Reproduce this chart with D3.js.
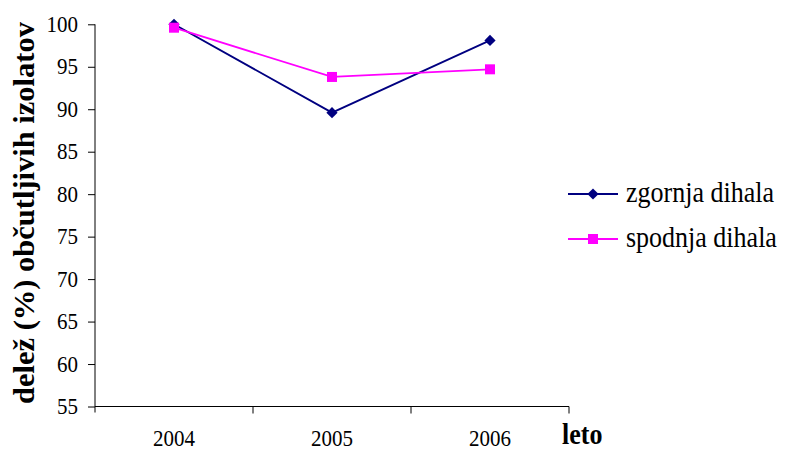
<!DOCTYPE html>
<html>
<head>
<meta charset="utf-8">
<script src="https://cdn.jsdelivr.net/npm/d3@7"></script>
<style>
  html, body { margin: 0; padding: 0; background: #fff; }
  svg { display: block; }
  svg text { font-family: "Liberation Serif", "Times New Roman", serif; fill: #000; }
</style>
</head>
<body>
<svg id="chart" width="789" height="451"></svg>
<script>
// Years on the category axis
const years = ["2004", "2005", "2006"];
// Share (%) of susceptible isolates per respiratory tract site
const zgornjaDihala = [100, 89.6, 98.1];
const spodnjaDihala = [99.6, 93.8, 94.7];
// Value-axis ticks
const yTicks = [55, 60, 65, 70, 75, 80, 85, 90, 95, 100];

const seriesNames = ["zgornja dihala", "spodnja dihala"];
const seriesColors = ["#000080", "#FF00FF"];
const seriesValues = [zgornjaDihala, spodnjaDihala];

const SERIF = "'Liberation Serif', 'Times New Roman', serif";
// Glyphs are drawn slightly taller than wide
const STRETCH = 1.1;

const svg = d3.select("#chart");

const plot = { left: 95, right: 569, top: 24.3, bottom: 406.5 };

const x = d3.scaleBand().domain(years).range([plot.left, plot.right]);
const y = d3.scaleLinear().domain([55, 100]).range([plot.bottom, plot.top]);

// Value axis
const yAxis = svg.append("g")
  .attr("transform", `translate(${plot.left},0)`)
  .call(d3.axisLeft(y).tickValues(yTicks).tickSize(7).tickPadding(10).tickFormat(d3.format("d")));
yAxis.attr("font-family", null).attr("font-size", null);
yAxis.select(".domain").attr("d", `M0,${plot.top}V${plot.bottom + 6}`).attr("stroke", "#000");
yAxis.selectAll(".tick line").attr("stroke", "#000");
yAxis.selectAll(".tick text")
  .style("font-family", SERIF)
  .style("font-size", "21px")
  .attr("fill", "#000")
  .attr("x", null)
  .attr("dy", null)
  .attr("transform", `translate(-17,7) scale(1,${STRETCH})`);

// Category axis: ticks sit at the band boundaries, labels centred in each band
const xAxisG = svg.append("g").attr("transform", `translate(0,${plot.bottom})`);
xAxisG.append("line")
  .attr("x1", plot.left).attr("x2", plot.right)
  .attr("stroke", "#000");
const bounds = years.map(d => x(d)).concat([plot.right]).slice(1);
xAxisG.selectAll("line.tk").data(bounds).join("line")
  .attr("class", "tk")
  .attr("x1", d => d).attr("x2", d => d)
  .attr("y1", 0).attr("y2", 7)
  .attr("stroke", "#000");
xAxisG.selectAll("text.lbl").data(years).join("text")
  .attr("class", "lbl")
  .attr("transform", d => `translate(${x(d) + x.bandwidth() / 2},39.5) scale(1,${STRETCH})`)
  .attr("text-anchor", "middle")
  .style("font-family", SERIF)
  .style("font-size", "21px")
  .text(d => d);

// Axis titles
svg.append("text")
  .attr("transform", `translate(562,444) scale(1,${STRETCH})`)
  .style("font-family", SERIF)
  .style("font-size", "26px")
  .style("font-weight", "bold")
  .text("leto");

svg.append("text")
  .attr("transform", "translate(34,404) rotate(-90)")
  .style("font-family", SERIF)
  .style("font-size", "29px")
  .style("font-weight", "bold")
  .attr("textLength", 382)
  .attr("lengthAdjust", "spacingAndGlyphs")
  .text("delež (%) občutljivih izolatov");

// Series lines and markers
const line = d3.line()
  .x((d, i) => x(years[i]) + x.bandwidth() / 2)
  .y(d => y(d));

const diamond = d3.symbol().type(d3.symbolDiamond2).size(80);

seriesValues.forEach((vals, s) => {
  const g = svg.append("g");
  g.append("path")
    .attr("d", line(vals))
    .attr("fill", "none")
    .attr("stroke", seriesColors[s])
    .attr("stroke-width", 1.8);
  if (s === 0) {
    g.selectAll("path.m").data(vals).join("path")
      .attr("class", "m")
      .attr("transform", (d, i) => `translate(${x(years[i]) + x.bandwidth() / 2},${y(d)})`)
      .attr("d", diamond)
      .attr("fill", seriesColors[s]);
  } else {
    g.selectAll("rect.m").data(vals).join("rect")
      .attr("class", "m")
      .attr("x", (d, i) => x(years[i]) + x.bandwidth() / 2 - 5)
      .attr("y", d => y(d) - 5)
      .attr("width", 10).attr("height", 10)
      .attr("fill", seriesColors[s]);
  }
});

// Legend
const legendY = [194, 239];
const legend = svg.append("g");
seriesNames.forEach((name, s) => {
  const ly = legendY[s];
  legend.append("line")
    .attr("x1", 568).attr("x2", 618)
    .attr("y1", ly).attr("y2", ly)
    .attr("stroke", seriesColors[s]).attr("stroke-width", 1.8);
  if (s === 0) {
    legend.append("path")
      .attr("transform", `translate(593,${ly})`)
      .attr("d", diamond)
      .attr("fill", seriesColors[s]);
  } else {
    legend.append("rect")
      .attr("x", 588).attr("y", ly - 5)
      .attr("width", 10).attr("height", 10)
      .attr("fill", seriesColors[s]);
  }
  legend.append("text")
    .attr("transform", `translate(626,${ly + 8}) scale(1,${STRETCH})`)
    .style("font-family", SERIF)
    .style("font-size", "26px")
    .text(name);
});
</script>
</body>
</html>
